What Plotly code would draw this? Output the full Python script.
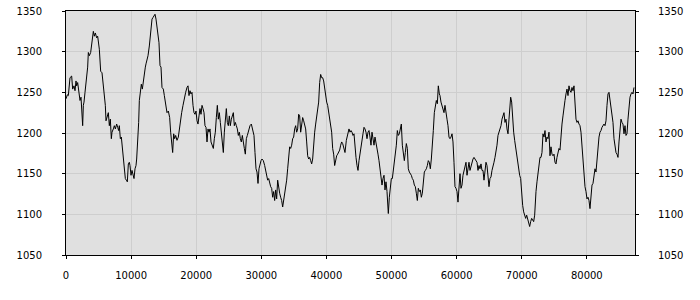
import plotly.graph_objects as go

x_vals = [
    0, 205, 358, 614, 870, 1024, 1229, 1382, 1536, 1638, 1792, 1894, 2048, 2150, 2304, 2458, 2560, 2662, 2765, 2918,
    3174, 3328, 3430, 3584, 3789, 3942, 4045, 4198, 4352, 4506, 4710, 4864, 5120, 5325, 5530, 5734, 5888, 6042, 6144, 6349,
    6502, 6656, 6810, 6963, 7066, 7270, 7424, 7578, 7782, 7936, 8090, 8192, 8346, 8499, 8653, 8806, 8960, 9114, 9267, 9421,
    9574, 9728, 9830, 9984, 10138, 10291, 10445, 10598, 10752, 10854, 11008, 11162, 11264, 11418, 11571, 11725, 11878, 12032, 12186, 12288,
    12442, 12595, 12800, 12902, 13056, 13210, 13363, 13517,
    13670, 13824, 13977, 14131, 14284, 14438, 14592, 14745, 14950, 15104, 15308, 15513, 15718, 15923, 16076, 16230, 16384, 16537, 16691, 16844,
    17049, 17254, 17408, 17561, 17766, 17971, 18176, 18380, 18585, 18739, 18892, 19046, 19200, 19353, 19507, 19660, 19814, 19968, 20122, 20275,
    20429, 20582, 20736, 20890, 21043, 21197, 21350, 21504, 21658, 21811, 21965, 22118, 22272, 22477, 22630, 22784, 22938, 23091, 23245, 23398,
    23552, 23706, 23859, 24013, 24166, 24320, 24474, 24627, 24781, 24934, 25088, 25242, 25395, 25549, 25702, 25856, 26010, 26163, 26317, 26470,
    26624, 26778, 26931, 27085, 27238, 27392, 27546, 27699, 27853, 28006, 28211,
    28262, 28467, 28672, 28876, 29030, 29184, 29337, 29491, 29644, 29798, 29952, 30105, 30310, 30515, 30669, 30822, 30976, 31130, 31283, 31437,
    31590, 31744, 31898, 32051, 32205, 32358, 32512, 32666, 32819, 32973, 33126, 33280, 33434, 33587, 33741, 33894, 34048, 34202, 34355, 34509,
    34662, 34816, 34970, 35123, 35277, 35430, 35584, 35738, 35891, 36045, 36198, 36352, 36506, 36659, 36813, 36966, 37120, 37274, 37427, 37581,
    37734, 37888, 38042, 38195, 38349, 38502, 38656, 38810, 38963, 39117, 39270, 39424, 39578, 39731, 39885, 40038, 40192, 40346, 40499, 40653,
    40806, 40960, 41114, 41267, 41421, 41574, 41728, 41882, 42035, 42189, 42342, 42496, 42650,
    42854, 43059, 43264, 43468, 43622, 43776, 43930, 44083, 44237, 44390, 44544, 44698, 44851, 45005, 45158, 45312, 45466, 45619, 45773, 45926,
    46080, 46234, 46387, 46541, 46694, 46848, 47002, 47155, 47309, 47462, 47616, 47770, 47923, 48077, 48230, 48384, 48538, 48691, 48845, 48998,
    49152, 49306, 49459, 49510, 49664, 49818, 49971, 50125, 50278, 50432, 50586, 50739, 50893, 51046, 51200, 51354, 51507, 51661, 51814, 51968,
    52122, 52275, 52429, 52582, 52736, 52890, 53043, 53197, 53350, 53504, 53658, 53811, 53965, 54118, 54272, 54426, 54579, 54733, 54886, 55040,
    55194, 55347, 55501, 55654, 55808, 55962, 56115, 56269, 56422, 56576, 56730, 56883, 57037, 57190, 57344,
    57446, 57600, 57754, 57907, 58061, 58214, 58368, 58522, 58675, 58829, 58982, 59136, 59290, 59443, 59597, 59750, 59904, 60058, 60211, 60365,
    60518, 60672, 60826, 60979, 61133, 61286, 61440, 61594, 61747, 61901, 62054, 62208, 62362, 62515, 62669, 62822, 62976, 63130, 63283, 63437,
    63590, 63744, 63898, 64051, 64205, 64358, 64512, 64666, 64819, 64973, 65126, 65280, 65434, 65587, 65741, 65894, 66048, 66202, 66355, 66509,
    66662, 66816, 66970, 67123, 67277, 67430, 67584, 67738, 67891, 68045, 68198, 68301, 68454, 68608, 68762, 68915, 69069, 69222, 69376, 69530,
    69683, 69837, 69990, 70144, 70298, 70451, 70605, 70758, 70912, 71066, 71219, 71373, 71526, 71680, 71834, 71987,
    72038, 72192, 72346, 72499, 72653, 72806, 72960, 73114, 73267, 73421, 73574, 73728, 73882, 74035, 74189, 74342, 74496, 74650, 74803, 74957,
    75110, 75264, 75418, 75571, 75725, 75878, 76032, 76186, 76339, 76493, 76646, 76800, 76954, 77107, 77261, 77414, 77568, 77722, 77875, 78029,
    78182, 78336, 78490, 78643, 78797, 78950, 79104, 79258, 79411, 79565, 79718, 79872, 80026, 80179, 80333, 80486, 80640, 80794, 80947, 81101,
    81254, 81408, 81562, 81715, 81869, 82022, 82176, 82330, 82483, 82637, 82790, 82944, 83098, 83251, 83405, 83558, 83712, 83866, 84019, 84173,
    84326, 84480, 84634, 84787, 84941, 85094, 85248, 85402, 85555, 85709, 85862, 86016, 86170, 86323, 86477, 86630, 86784, 86938, 87091, 87245,
]

y_vals = [
    1242, 1247, 1246, 1268, 1270, 1254, 1258, 1252, 1264, 1258, 1262, 1254, 1250, 1240, 1244, 1217, 1209, 1234, 1238, 1250,
    1268, 1281, 1299, 1295, 1299, 1311, 1319, 1325, 1319, 1323, 1317, 1319, 1303, 1276, 1274, 1256, 1250, 1234, 1215, 1221,
    1225, 1209, 1217, 1193, 1201, 1205, 1209, 1205, 1211, 1207, 1203, 1209, 1193, 1195, 1181, 1176, 1156, 1144, 1142, 1140,
    1162, 1164, 1160, 1148, 1154, 1148, 1144, 1156, 1160, 1168, 1189, 1213, 1240, 1250, 1260, 1254, 1264, 1276, 1281, 1285,
    1289, 1295, 1307, 1315, 1321, 1340, 1342, 1344,
    1346, 1340, 1332, 1319, 1311, 1283, 1281, 1256, 1254, 1246, 1236, 1225, 1227, 1219, 1201, 1189, 1176, 1199, 1193, 1197,
    1191, 1195, 1205, 1209, 1225, 1234, 1244, 1250, 1256, 1258, 1246, 1252, 1248, 1250, 1234, 1225, 1223, 1227, 1215, 1211,
    1221, 1230, 1223, 1234, 1230, 1225, 1209, 1207, 1189, 1205, 1201, 1205, 1189, 1185, 1181, 1193, 1201, 1219, 1234, 1217,
    1225, 1213, 1201, 1181, 1176, 1201, 1217, 1230, 1213, 1209, 1221, 1209, 1217, 1221, 1225, 1209, 1213, 1209, 1205, 1197,
    1201, 1193, 1189, 1197, 1185, 1181, 1174, 1193, 1197, 1201, 1205,
    1209, 1211, 1203, 1197, 1176, 1156, 1152, 1138, 1156, 1162, 1166, 1168, 1166, 1160, 1154, 1152, 1142, 1144, 1136, 1134,
    1132, 1121, 1128, 1117, 1130, 1119, 1142, 1130, 1126, 1121, 1117, 1109, 1117, 1121, 1134, 1142, 1156, 1168, 1183, 1181,
    1185, 1193, 1195, 1205, 1209, 1201, 1205, 1223, 1221, 1201, 1213, 1219, 1215, 1209, 1205, 1189, 1172, 1168, 1170, 1166,
    1162, 1168, 1189, 1201, 1211, 1221, 1225, 1238, 1262, 1272, 1268, 1268, 1264, 1254, 1250, 1238, 1234, 1225, 1221, 1213,
    1201, 1181, 1174, 1160, 1168, 1172, 1174, 1176, 1179, 1185, 1189, 1187, 1181,
    1176, 1191, 1199, 1205, 1201, 1203, 1201, 1197, 1199, 1181, 1170, 1160, 1154, 1166, 1176, 1181, 1189, 1199, 1207, 1205,
    1201, 1193, 1201, 1203, 1195, 1185, 1201, 1195, 1185, 1195, 1189, 1181, 1174, 1166, 1156, 1146, 1136, 1144, 1148, 1130,
    1140, 1128, 1111, 1101, 1121, 1132, 1144, 1144, 1154, 1160, 1168, 1185, 1203, 1197, 1199, 1207, 1211, 1185, 1176, 1166,
    1176, 1187, 1181, 1156, 1152, 1150, 1148, 1144, 1142, 1136, 1134, 1126, 1117, 1132, 1128, 1130, 1121, 1126, 1140, 1152,
    1154, 1156, 1160, 1166, 1164, 1156, 1168, 1181, 1203, 1225, 1234, 1240, 1236, 1258, 1248,
    1246, 1238, 1234, 1230, 1225, 1234, 1221, 1217, 1209, 1195, 1193, 1195, 1199, 1189, 1164, 1134, 1132, 1128, 1115, 1140,
    1150, 1132, 1136, 1148, 1154, 1162, 1164, 1148, 1160, 1164, 1154, 1160, 1166, 1168, 1170, 1168, 1166, 1164, 1154, 1160,
    1156, 1162, 1154, 1154, 1142, 1152, 1164, 1160, 1144, 1134, 1144, 1146, 1154, 1158, 1164, 1170, 1176, 1185, 1197, 1201,
    1205, 1209, 1217, 1223, 1225, 1213, 1217, 1205, 1199, 1217, 1234, 1244, 1238, 1217, 1201, 1191, 1181, 1176, 1162, 1156,
    1148, 1144, 1123, 1111, 1103, 1099, 1095, 1099, 1093, 1089, 1085, 1091, 1095, 1093, 1091, 1099,
    1111, 1128, 1140, 1148, 1156, 1170, 1170, 1176, 1199, 1195, 1203, 1189, 1195, 1193, 1201, 1172, 1183, 1174, 1172, 1174,
    1164, 1162, 1170, 1176, 1181, 1179, 1201, 1211, 1221, 1234, 1240, 1248, 1254, 1246, 1258, 1252, 1250, 1256, 1252, 1258,
    1238, 1217, 1213, 1215, 1211, 1209, 1201, 1181, 1162, 1148, 1134, 1128, 1119, 1121, 1117, 1107, 1121, 1136, 1138, 1148,
    1156, 1152, 1168, 1185, 1195, 1201, 1203, 1207, 1209, 1211, 1209, 1215, 1234, 1248, 1250, 1242, 1234, 1225, 1213, 1193,
    1181, 1176, 1174, 1170, 1189, 1201, 1217, 1213, 1211, 1199, 1209, 1197, 1199, 1217, 1234, 1244, 1248, 1250, 1248, 1256,
]

x_ticks = [0, 10000, 20000, 30000, 40000, 50000, 60000, 70000, 80000]
y_ticks = [1050, 1100, 1150, 1200, 1250, 1300, 1350]
x_range = [0, 87400]
y_range = [1050, 1350]

font = dict(family="DejaVu Sans", size=10, color="#000000")

fig = go.Figure()
fig.add_trace(go.Scatter(x=x_vals, y=y_vals, mode="lines",
                         line=dict(color="#000000", width=1), showlegend=False, hoverinfo="skip"))
# invisible trace on the right axis so it renders
fig.add_trace(go.Scatter(x=[x_vals[0]], y=[y_vals[0]], yaxis="y2", mode="lines",
                         line=dict(width=0), showlegend=False, hoverinfo="skip"))

axis_common = dict(showline=True, linecolor="#000000", linewidth=1,
                   gridcolor="#cecece", gridwidth=1, zeroline=False, automargin=False,
                   ticks="outside", ticklen=3, tickcolor="#000000", tickfont=font)

fig.update_layout(
    width=700, height=300,
    margin=dict(l=66, r=65, t=11, b=45, autoexpand=False),
    paper_bgcolor="#ffffff", plot_bgcolor="#e0e0e0",
    font=font,
    xaxis=dict(range=x_range, tickvals=x_ticks, ticktext=[str(v) for v in x_ticks],
               mirror=True, ticklabelstandoff=8, **axis_common),
    yaxis=dict(range=y_range, tickvals=y_ticks, ticktext=[str(v) for v in y_ticks],
               side="left", ticklabelstandoff=18, **axis_common),
    yaxis2=dict(range=y_range, tickvals=y_ticks, ticktext=[str(v) for v in y_ticks],
                side="right", overlaying="y", showgrid=False, ticklabelstandoff=17,
                **{k: v for k, v in axis_common.items() if k not in ("gridcolor", "gridwidth")}),
)

fig.write_html("out.html")
